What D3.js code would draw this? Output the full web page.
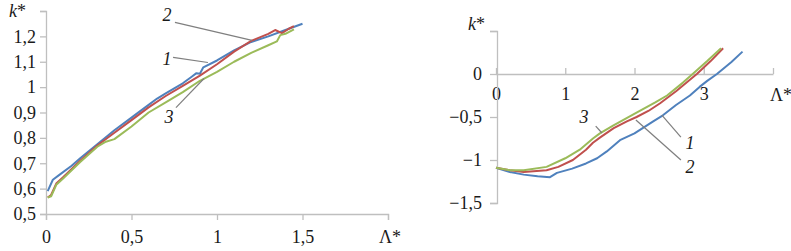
<!DOCTYPE html>
<html>
<head>
<meta charset="utf-8">
<script src="https://cdn.jsdelivr.net/npm/d3@7"></script>
<style>
  body { margin: 0; background: #fff; }
  svg { display: block; }
</style>
</head>
<body>
<div class="chart"></div>
<script>
// ---- left panel data (Λ*, k*)
const leftCurve1 = [[0.01,0.59],[0.04,0.635],[0.08,0.655],[0.15,0.69],[0.2,0.72],[0.3,0.775],[0.4,0.83],[0.5,0.88],[0.6,0.93],[0.65,0.955],[0.7,0.975],[0.75,0.995],[0.8,1.015],[0.85,1.04],[0.88,1.055],[0.9,1.053],[0.92,1.078],[1.0,1.105],[1.1,1.145],[1.2,1.178],[1.3,1.2],[1.4,1.225],[1.5,1.25]];
const leftCurve2 = [[0.01,0.565],[0.03,0.575],[0.06,0.62],[0.1,0.645],[0.2,0.71],[0.3,0.77],[0.4,0.82],[0.5,0.87],[0.6,0.92],[0.7,0.965],[0.8,1.005],[0.9,1.045],[1.0,1.09],[1.1,1.14],[1.2,1.182],[1.3,1.21],[1.34,1.225],[1.38,1.213],[1.42,1.23],[1.45,1.24]];
const leftCurve3 = [[0.01,0.565],[0.03,0.57],[0.06,0.615],[0.1,0.64],[0.2,0.705],[0.3,0.765],[0.35,0.785],[0.4,0.795],[0.5,0.845],[0.6,0.9],[0.7,0.94],[0.8,0.98],[0.9,1.025],[1.0,1.06],[1.1,1.1],[1.2,1.135],[1.3,1.165],[1.35,1.18],[1.37,1.205],[1.4,1.21],[1.45,1.228]];
const leftXTicks = [0, 0.5, 1, 1.5, 2];
const leftYTicks = [0.5, 0.6, 0.7, 0.8, 0.9, 1, 1.1, 1.2, 1.3];

// ---- right panel data
const rightCurve1 = [[0,-1.09],[0.2,-1.14],[0.4,-1.17],[0.6,-1.19],[0.78,-1.2],[0.88,-1.15],[1.1,-1.1],[1.3,-1.04],[1.46,-0.98],[1.6,-0.9],[1.79,-0.77],[2.0,-0.69],[2.27,-0.55],[2.41,-0.48],[2.6,-0.36],[2.8,-0.25],[2.94,-0.15],[3.05,-0.08],[3.19,0],[3.4,0.14],[3.56,0.26]];
const rightCurve2 = [[0,-1.09],[0.2,-1.12],[0.4,-1.14],[0.73,-1.12],[0.9,-1.08],[1.11,-1.0],[1.3,-0.88],[1.4,-0.8],[1.5,-0.74],[1.7,-0.63],[1.89,-0.55],[2.03,-0.5],[2.2,-0.43],[2.37,-0.34],[2.6,-0.2],[2.9,0],[3.1,0.15],[3.28,0.3]];
const rightCurve3 = [[0,-1.09],[0.2,-1.12],[0.4,-1.12],[0.73,-1.08],[1.0,-0.98],[1.21,-0.88],[1.4,-0.75],[1.5,-0.69],[1.69,-0.6],[2.03,-0.45],[2.3,-0.33],[2.47,-0.25],[2.7,-0.1],[2.84,0],[3.05,0.15],[3.25,0.3]];
const rightXTicks = [0, 1, 2, 3, 4];
const rightYTicks = [-1.5, -1, -0.5, 0, 0.5];

const curveColors = ["#4f81bd", "#c0504d", "#9bbb59"];

// leader labels: [label, labelX, labelY, fromX, fromY, toX, toY] in data units
const leftNotes = [["2",0.708,1.287,0.754,1.255,1.205,1.184],["1",0.708,1.113,0.743,1.117,0.947,1.097],["3",0.72,0.883,0.76,0.919,0.924,1.034]];
const rightNotes = [["3",1.27,-0.5,1.44,-0.605,1.53,-0.686],["1",2.8,-0.8,2.395,-0.477,2.67,-0.733],["2",2.8,-1.08,2.02,-0.535,2.67,-1.0]];

const fmt = d => String(d).replace(".", ",").replace("-", "\u2212");

const svg = d3.select(".chart").append("svg")
    .attr("width", 791)
    .attr("height", 251)
    .attr("font-family", "Liberation Serif")
    .attr("font-size", 18);

// serif text like the original figure
function serifText(sel) {
  sel.attr("font-family", "Liberation Serif")
    .attr("font-size", 18)
    .style("font-family", "'Liberation Serif'")
    .style("font-size", "18px")
    .style("fill", "#1a1a1a");
}

function kLabel(x, y) {
  const t = svg.append("text").attr("x", x).attr("y", y).call(serifText);
  t.append("tspan").style("font-style", "italic").text("k");
  t.append("tspan").text("*");
}

function drawNotes(notes, xs, ys) {
  notes.forEach(n => {
    svg.append("line")
      .attr("x1", xs(n[3])).attr("y1", ys(n[4]))
      .attr("x2", xs(n[5])).attr("y2", ys(n[6]))
      .attr("stroke", "#7f7f7f").attr("stroke-width", 1.2);
    svg.append("text")
      .attr("x", xs(n[1])).attr("y", ys(n[2]))
      .attr("text-anchor", "middle").attr("dy", "0.35em")
      .call(serifText)
      .style("font-style", "italic")
      .text(n[0]);
  });
}

function drawCurves(curves, xs, ys) {
  const line = d3.line().x(d => xs(d[0])).y(d => ys(d[1]));
  curves.forEach((c, i) => {
    svg.append("path").datum(c)
      .attr("fill", "none")
      .attr("stroke", curveColors[i])
      .attr("stroke-width", 2)
      .attr("stroke-linejoin", "round")
      .attr("d", line);
  });
}

function styleAxis(g) {
  g.attr("font-family", "Liberation Serif").attr("font-size", 18);
  g.selectAll("path, line").attr("stroke", "#bfbfbf").attr("stroke-width", 1.3);
  g.selectAll("text").call(serifText);
}

// ===== left panel
const xL = d3.scaleLinear().domain([0, 2]).range([46, 388]);
const yL = d3.scaleLinear().domain([0.5, 1.3]).range([214, 11]);

svg.append("g")
  .attr("transform", "translate(0,214)")
  .call(d3.axisBottom(xL).tickValues(leftXTicks).tickSizeOuter(0).tickSize(6).tickPadding(10)
    .tickFormat(d => d === 2 ? "" : fmt(d)))
  .call(styleAxis);
svg.append("g")
  .attr("transform", "translate(46,0)")
  .call(d3.axisLeft(yL).tickValues(leftYTicks).tickSizeOuter(0).tickSize(6).tickPadding(4)
    .tickFormat(d => d === 1.3 ? "" : fmt(d)))
  .call(styleAxis);

drawCurves([leftCurve1, leftCurve2, leftCurve3], xL, yL);
drawNotes(leftNotes, xL, yL);
kLabel(9, 17);
svg.append("text").attr("x", 390).attr("y", 243)
  .attr("text-anchor", "middle").call(serifText).text("\u039B*");

// ===== right panel
const xR = d3.scaleLinear().domain([0, 4]).range([496, 773]);
const yR = d3.scaleLinear().domain([-1.5, 0.5]).range([203, 31]);

svg.append("g")
  .attr("transform", "translate(0," + yR(0) + ")")
  .call(d3.axisBottom(xR).tickValues(rightXTicks).tickSizeOuter(0).tickSizeInner(-6).tickPadding(13)
    .tickFormat(d => d === 4 ? "" : fmt(d)))
  .call(styleAxis);
svg.append("g")
  .attr("transform", "translate(497,0)")
  .call(d3.axisLeft(yR).tickValues(rightYTicks).tickSizeOuter(0).tickSize(7).tickPadding(8)
    .tickFormat(d => d === 0.5 ? "" : fmt(d)))
  .call(styleAxis);

drawCurves([rightCurve1, rightCurve2, rightCurve3], xR, yR);
drawNotes(rightNotes, xR, yR);
kLabel(468, 30);
svg.append("text").attr("x", 781).attr("y", 101)
  .attr("text-anchor", "middle").call(serifText).text("\u039B*");
</script>
</body>
</html>
